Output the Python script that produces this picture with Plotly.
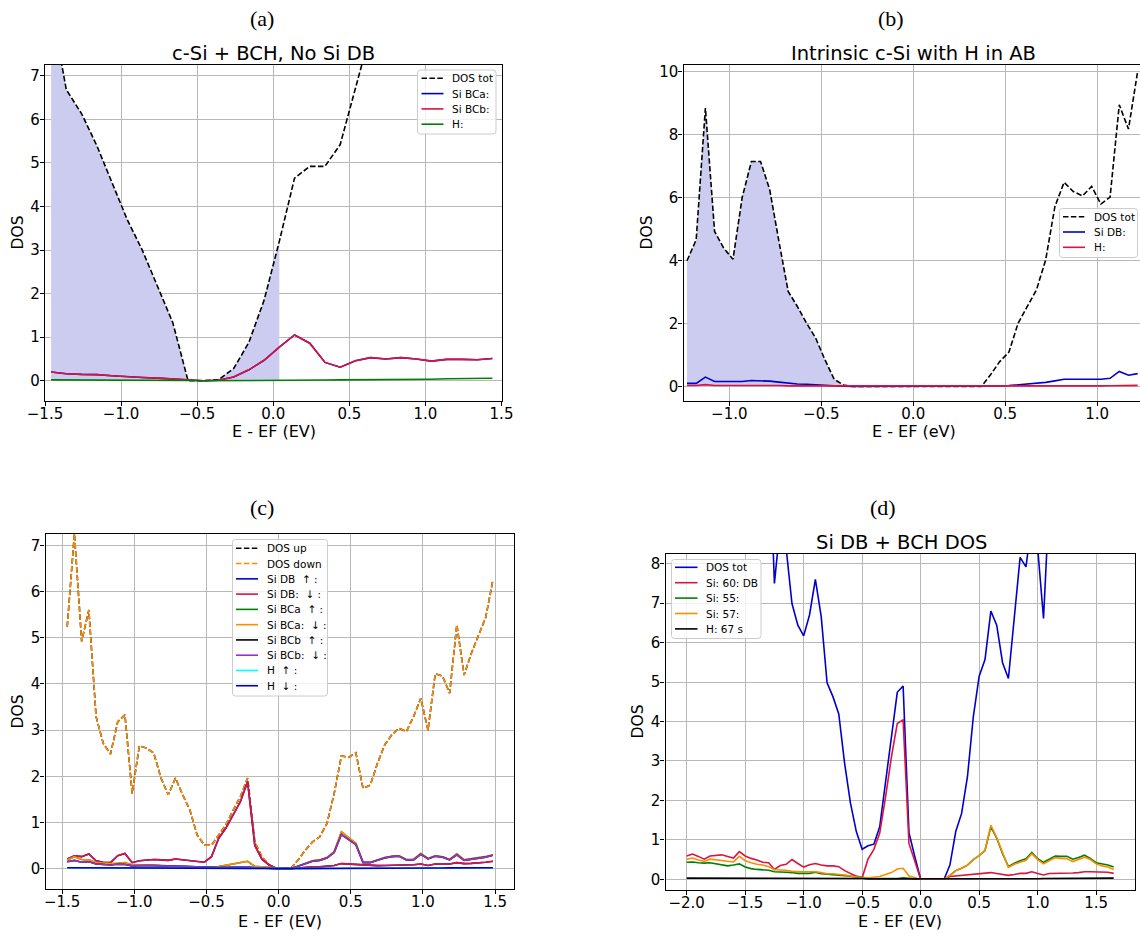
import plotly.graph_objects as go

# ---------------- data ----------------
# (a) c-Si + BCH, No Si DB
E_a = [-1.46, -1.36, -1.26, -1.16, -1.06, -0.96, -0.86, -0.76, -0.66, -0.56,
       -0.46, -0.36, -0.26, -0.16, -0.06, 0.04, 0.14, 0.24, 0.34, 0.44,
       0.54, 0.64, 0.74, 0.84, 0.94, 1.04, 1.14, 1.24, 1.34, 1.44]
dos_tot_a = [8.6, 6.68, 6.13, 5.4, 4.55, 3.7, 2.99, 2.16, 1.33, 0.0,
             0.0, 0.02, 0.28, 0.88, 1.85, 3.2, 4.65, 4.92, 4.92, 5.42,
             6.75, 8.0]
si_bcb_a = [0.2, 0.16, 0.145, 0.14, 0.115, 0.09, 0.075, 0.06, 0.045, 0.015,
            0.0, 0.01, 0.085, 0.25, 0.47, 0.77, 1.05, 0.86, 0.42, 0.31,
            0.46, 0.53, 0.5, 0.53, 0.5, 0.45, 0.49, 0.49, 0.48, 0.51]
si_bca_a = [0.2, 0.16, 0.145, 0.14, 0.115, 0.09, 0.075, 0.06, 0.045, 0.015,
            0.0, 0.01, 0.085, 0.25, 0.47, 0.77, 1.05, 0.86, 0.42, 0.31,
            0.46, 0.53, 0.5, 0.53, 0.5, 0.45, 0.49, 0.49, 0.48, 0.51]
h_a = [0.02, 0.02, 0.02, 0.02, 0.02, 0.02, 0.015, 0.015, 0.01, 0.005,
       0.0, 0.0, 0.002, 0.004, 0.005, 0.006, 0.008, 0.01, 0.015, 0.02,
       0.02, 0.022, 0.025, 0.03, 0.03, 0.035, 0.045, 0.05, 0.055, 0.055]
n_fill_a = 16  # points up to the Fermi level

# (b) Intrinsic c-Si with H in AB
E_b = [-1.23, -1.18, -1.13, -1.08, -1.03, -0.98, -0.93, -0.88, -0.83, -0.78,
       -0.73, -0.68, -0.63, -0.58, -0.53, -0.48, -0.43, -0.38, -0.33, -0.28,
       -0.23, -0.18, -0.13, -0.08, -0.03, 0.02, 0.07, 0.12, 0.17, 0.22,
       0.27, 0.32, 0.37, 0.42, 0.47, 0.52, 0.57, 0.62, 0.67, 0.72,
       0.77, 0.82, 0.87, 0.92, 0.97, 1.02, 1.07, 1.12, 1.17, 1.22]
dos_tot_b = [3.99, 4.66, 8.84, 4.92, 4.39, 4.04, 6.0, 7.14, 7.14, 6.24,
             4.6, 3.02, 2.54, 2.01, 1.53, 0.85, 0.23, 0.05, 0.0, 0.0,
             0.0, 0.0, 0.0, 0.0, 0.0, 0.0, 0.0, 0.0, 0.0, 0.0,
             0.0, 0.0, 0.0, 0.37, 0.79, 1.09, 2.01, 2.54, 3.07, 4.02,
             5.71, 6.48, 6.19, 6.05, 6.35, 5.79, 6.01, 8.94, 8.17, 10.0]
si_db_b = [0.1, 0.1, 0.3, 0.16, 0.16, 0.15, 0.16, 0.19, 0.19, 0.17,
           0.14, 0.1, 0.08, 0.07, 0.05, 0.03, 0.02, 0.01, 0.0, 0.0,
           0.0, 0.0, 0.0, 0.0, 0.0, 0.0, 0.0, 0.0, 0.0, 0.0,
           0.0, 0.0, 0.0, 0.01, 0.02, 0.03, 0.05, 0.07, 0.09, 0.13,
           0.18, 0.23, 0.23, 0.23, 0.23, 0.23, 0.26, 0.48, 0.36, 0.41]
h_b = [0.03, 0.03, 0.06, 0.03, 0.03, 0.03, 0.03, 0.05, 0.05, 0.04,
       0.03, 0.02, 0.02, 0.02, 0.015, 0.01, 0.005, 0.0, 0.0, 0.0,
       0.0, 0.0, 0.0, 0.0, 0.0, 0.0, 0.0, 0.0, 0.0, 0.0,
       0.0, 0.0, 0.0, 0.002, 0.004, 0.005, 0.006, 0.008, 0.01, 0.012,
       0.015, 0.018, 0.02, 0.02, 0.02, 0.02, 0.025, 0.035, 0.03, 0.035]
n_fill_b = 25

# (c) spin-resolved
E_c = [-1.465, -1.415, -1.365, -1.315, -1.265, -1.215, -1.165, -1.115, -1.065, -1.015,
       -0.965, -0.915, -0.865, -0.815, -0.765, -0.715, -0.665, -0.615, -0.565, -0.515,
       -0.465, -0.415, -0.365, -0.315, -0.265, -0.215, -0.165, -0.115, -0.065, -0.015,
       0.035, 0.085, 0.135, 0.185, 0.235, 0.285, 0.335, 0.385, 0.435, 0.485,
       0.535, 0.585, 0.635, 0.685, 0.735, 0.785, 0.835, 0.885, 0.935, 0.985,
       1.035, 1.085, 1.135, 1.185, 1.235, 1.285, 1.335, 1.385, 1.435, 1.485]
dos_down_c = [5.24, 7.25, 4.92, 5.6, 3.29, 2.71, 2.48, 3.18, 3.33, 1.63,
              2.66, 2.61, 2.5, 1.96, 1.6, 1.96, 1.6, 1.27, 0.73, 0.51,
              0.51, 0.73, 0.95, 1.27, 1.56, 1.96, 0.58, 0.25, 0.08, 0.0,
              0.0, 0.01, 0.19, 0.4, 0.58, 0.69, 0.98, 1.63, 2.44, 2.41,
              2.51, 1.74, 1.81, 2.28, 2.68, 2.9, 3.04, 2.97, 3.29, 3.69,
              3.0, 4.22, 4.17, 3.8, 5.28, 4.19, 4.66, 5.06, 5.44, 6.25]
dos_up_c = [5.24, 7.25, 4.92, 5.6, 3.29, 2.71, 2.48, 3.18, 3.33, 1.63,
            2.66, 2.61, 2.5, 1.96, 1.6, 1.96, 1.6, 1.27, 0.73, 0.51,
            0.51, 0.73, 0.95, 1.27, 1.56, 1.96, 0.58, 0.25, 0.08, 0.0,
            0.0, 0.01, 0.19, 0.4, 0.58, 0.69, 0.98, 1.63, 2.44, 2.41,
            2.51, 1.74, 1.81, 2.28, 2.68, 2.9, 3.04, 2.97, 3.29, 3.69,
            3.0, 4.22, 4.17, 3.8, 5.28, 4.19, 4.66, 5.06, 5.44, 6.25]
si_db_c = [0.21, 0.28, 0.26, 0.32, 0.17, 0.14, 0.13, 0.28, 0.33, 0.13,
           0.17, 0.18, 0.2, 0.19, 0.18, 0.21, 0.19, 0.17, 0.16, 0.14,
           0.26, 0.66, 0.88, 1.15, 1.45, 1.88, 0.5, 0.2, 0.08, 0.01,
           0.0, 0.0, 0.015, 0.03, 0.04, 0.04, 0.06, 0.07, 0.11, 0.1,
           0.09, 0.07, 0.065, 0.065, 0.07, 0.07, 0.08, 0.08, 0.085, 0.1,
           0.07, 0.1, 0.1, 0.1, 0.13, 0.11, 0.115, 0.12, 0.14, 0.16]
si_bca_c = [0.19, 0.26, 0.2, 0.19, 0.13, 0.115, 0.11, 0.115, 0.13, 0.08,
            0.085, 0.08, 0.075, 0.065, 0.06, 0.06, 0.05, 0.045, 0.035, 0.03,
            0.03, 0.045, 0.07, 0.095, 0.12, 0.16, 0.05, 0.035, 0.03, 0.0,
            0.0, 0.0, 0.06, 0.12, 0.17, 0.19, 0.24, 0.37, 0.8, 0.67,
            0.55, 0.14, 0.14, 0.19, 0.24, 0.27, 0.28, 0.2, 0.2, 0.33,
            0.22, 0.28, 0.26, 0.2, 0.32, 0.19, 0.21, 0.24, 0.26, 0.3]
si_bcb_c = [0.15, 0.18, 0.14, 0.15, 0.1, 0.09, 0.08, 0.095, 0.09, 0.06,
            0.07, 0.07, 0.065, 0.06, 0.06, 0.05, 0.045, 0.035, 0.03, 0.02,
            0.02, 0.025, 0.03, 0.03, 0.035, 0.04, 0.02, 0.01, 0.005, 0.0,
            0.0, 0.0, 0.05, 0.11, 0.16, 0.18, 0.23, 0.35, 0.74, 0.63,
            0.52, 0.13, 0.13, 0.18, 0.23, 0.26, 0.27, 0.19, 0.19, 0.31,
            0.21, 0.27, 0.25, 0.19, 0.3, 0.18, 0.2, 0.23, 0.25, 0.29]
h_c = [0.02, 0.02, 0.02, 0.02, 0.02, 0.02, 0.02, 0.02, 0.02, 0.02,
       0.02, 0.02, 0.02, 0.02, 0.02, 0.02, 0.02, 0.02, 0.02, 0.02,
       0.015, 0.015, 0.015, 0.012, 0.012, 0.012, 0.01, 0.008, 0.005, 0.0,
       0.0, 0.0, 0.005, 0.008, 0.01, 0.01, 0.012, 0.012, 0.015, 0.015,
       0.015, 0.015, 0.015, 0.015, 0.015, 0.015, 0.015, 0.015, 0.015, 0.015,
       0.015, 0.015, 0.015, 0.018, 0.018, 0.018, 0.02, 0.02, 0.02, 0.02]

# (d) Si DB + BCH DOS
E_d = [-2.0, -1.95, -1.9, -1.85, -1.8, -1.75, -1.7, -1.65, -1.6, -1.55,
       -1.5, -1.45, -1.4, -1.35, -1.3, -1.25, -1.2, -1.15, -1.1, -1.05,
       -1.0, -0.95, -0.9, -0.85, -0.8, -0.75, -0.7, -0.65, -0.6, -0.55,
       -0.5, -0.45, -0.4, -0.35, -0.3, -0.25, -0.2, -0.15, -0.1, -0.05,
       0.0, 0.05, 0.1, 0.15, 0.2, 0.25, 0.3, 0.35, 0.4, 0.45,
       0.5, 0.55, 0.6, 0.65, 0.7, 0.75, 0.8, 0.85, 0.9, 0.95,
       1.0, 1.05, 1.1, 1.15, 1.2, 1.25, 1.3, 1.35, 1.4, 1.45,
       1.5, 1.55, 1.6, 1.65]
# total DOS: visible stretch (from -1.35 to 1.15)
E_tot_d = [-1.35, -1.3, -1.25, -1.2, -1.15, -1.1, -1.05, -1.0, -0.95, -0.9,
           -0.85, -0.8, -0.75, -0.7, -0.65, -0.6, -0.55, -0.5, -0.45, -0.4,
           -0.35, -0.3, -0.25, -0.2, -0.15, -0.1, -0.05, 0.0, 0.05, 0.1,
           0.15, 0.2, 0.25, 0.3, 0.35, 0.4, 0.45, 0.5, 0.55, 0.6,
           0.65, 0.7, 0.75, 0.8, 0.85, 0.9, 0.95, 1.0, 1.05, 1.1, 1.15]
dos_tot_d = [11.0, 11.5, 7.5, 9.0, 8.4, 6.99, 6.44, 6.17, 6.7, 7.6,
             6.66, 4.98, 4.63, 4.19, 2.94, 1.93, 1.21, 0.76, 0.85, 0.89,
             1.33, 2.43, 3.53, 4.74, 4.9, 1.18, 0.57, 0.0, 0.0, 0.0,
             0.0, 0.0, 0.36, 1.21, 1.67, 2.6, 4.12, 5.15, 5.57, 6.8,
             6.44, 5.49, 5.09, 6.66, 8.16, 7.92, 9.05, 8.4, 6.61, 9.66, 11.0]
si60_d = [0.59, 0.64, 0.58, 0.51, 0.59, 0.6, 0.62, 0.58, 0.54, 0.7,
          0.59, 0.53, 0.49, 0.43, 0.42, 0.25, 0.35, 0.38, 0.5, 0.4,
          0.31, 0.37, 0.4, 0.36, 0.34, 0.34, 0.32, 0.22, 0.14, 0.08,
          0.04, 0.51, 0.76, 1.17, 2.09, 3.1, 3.95, 4.04, 0.91, 0.45,
          0.0, 0.0, 0.0, 0.0, 0.0, 0.07, 0.085, 0.09, 0.12, 0.135,
          0.135, 0.15, 0.17, 0.145, 0.12, 0.1, 0.12, 0.15, 0.15, 0.19,
          0.145, 0.11, 0.145, 0.145, 0.16, 0.145, 0.16, 0.17, 0.19, 0.19,
          0.19, 0.19, 0.18, 0.15]
si55_d = [0.43, 0.44, 0.42, 0.41, 0.42, 0.39, 0.36, 0.34, 0.36, 0.39,
          0.31, 0.27, 0.25, 0.24, 0.23, 0.19, 0.19, 0.18, 0.17, 0.15,
          0.15, 0.15, 0.18, 0.14, 0.13, 0.12, 0.11, 0.09, 0.08, 0.06,
          0.04, 0.03, 0.025, 0.025, 0.025, 0.02, 0.02, 0.04, 0.02, 0.01,
          0.0, 0.0, 0.0, 0.0, 0.0, 0.1, 0.22, 0.28, 0.36, 0.5,
          0.6, 0.73, 1.33, 1.04, 0.65, 0.32, 0.41, 0.47, 0.52, 0.68,
          0.52, 0.43, 0.5, 0.59, 0.58, 0.58, 0.51, 0.55, 0.61, 0.53,
          0.42, 0.39, 0.36, 0.31]
si57_d = [0.51, 0.54, 0.49, 0.45, 0.51, 0.49, 0.47, 0.45, 0.44, 0.58,
          0.47, 0.42, 0.38, 0.36, 0.32, 0.24, 0.24, 0.23, 0.2, 0.19,
          0.19, 0.19, 0.19, 0.17, 0.14, 0.14, 0.13, 0.11, 0.085, 0.06,
          0.04, 0.04, 0.05, 0.07, 0.12, 0.17, 0.26, 0.28, 0.085, 0.05,
          0.0, 0.0, 0.0, 0.0, 0.0, 0.1, 0.22, 0.28, 0.36, 0.5,
          0.6, 0.74, 1.37, 1.06, 0.66, 0.3, 0.38, 0.44, 0.48, 0.65,
          0.5, 0.39, 0.46, 0.55, 0.53, 0.52, 0.45, 0.5, 0.56, 0.5,
          0.39, 0.34, 0.31, 0.25]
h67_d = [0.03, 0.03, 0.03, 0.03, 0.03, 0.03, 0.03, 0.03, 0.03, 0.03,
         0.03, 0.03, 0.03, 0.025, 0.025, 0.025, 0.025, 0.025, 0.025, 0.025,
         0.025, 0.025, 0.025, 0.025, 0.025, 0.025, 0.02, 0.02, 0.02, 0.02,
         0.02, 0.01, 0.01, 0.01, 0.01, 0.01, 0.01, 0.01, 0.01, 0.01,
         0.0, 0.0, 0.0, 0.0, 0.0, 0.01, 0.01, 0.01, 0.01, 0.01,
         0.01, 0.015, 0.015, 0.015, 0.015, 0.015, 0.015, 0.015, 0.015, 0.015,
         0.015, 0.02, 0.02, 0.02, 0.02, 0.02, 0.02, 0.03, 0.03, 0.03,
         0.03, 0.03, 0.035, 0.03]

# tick labels
xt_a = [-1.5, -1.0, -0.5, 0.0, 0.5, 1.0, 1.5]
xt_b = [-1.0, -0.5, 0.0, 0.5, 1.0]
xt_d = [-2.0, -1.5, -1.0, -0.5, 0.0, 0.5, 1.0, 1.5]
yt_a = [0, 1, 2, 3, 4, 5, 6, 7]
yt_b = [0, 2, 4, 6, 8, 10]
yt_d = [0, 1, 2, 3, 4, 5, 6, 7, 8]

for a, b in [(E_a, si_bcb_a), (E_a, h_a), (E_b, dos_tot_b), (E_b, si_db_b), (E_b, h_b),
             (E_c, dos_down_c), (E_c, si_db_c), (E_c, si_bca_c), (E_c, si_bcb_c), (E_c, h_c),
             (E_d, si60_d), (E_d, si55_d), (E_d, si57_d), (E_d, h67_d), (E_tot_d, dos_tot_d)]:
    assert len(a) == len(b), (len(a), len(b))

# ---------------- styling helpers ----------------
W, H = 1140, 934
FONT = "DejaVu Sans"
BLUE = "#0000CD"
CRIMSON = "#DC143C"
GREEN = "#008000"
ORANGE = "#FF8C00"
ORCHID = "#9932CC"
DASH = "5.5px,2.4px"
LW = 1.6


def px(x):
    return x / W


def py(y):
    return 1 - y / H


def fmt(v):
    s = f"{v:.1f}"
    return s.replace("-", "\u2212")


fig = go.Figure()


def line(x, y, color, ax, dash=None, width=LW):
    fig.add_trace(go.Scatter(x=x, y=y, mode="lines", xaxis="x" + ax, yaxis="y" + ax,
                             line=dict(color=color, width=width, dash=dash),
                             showlegend=False, hoverinfo="skip"))


# (a)
fig.add_trace(go.Scatter(x=E_a[:n_fill_a], y=dos_tot_a[:n_fill_a], mode="lines", fill="tozeroy",
                         fillcolor="rgb(204,204,240)", line=dict(width=0), xaxis="x", yaxis="y",
                         showlegend=False, hoverinfo="skip"))
line(E_a[:len(dos_tot_a)], dos_tot_a, "black", "", DASH)
line(E_a, si_bca_a, BLUE, "")
line(E_a, si_bcb_a, CRIMSON, "")
line(E_a, h_a, GREEN, "")

# (b)
fig.add_trace(go.Scatter(x=E_b[:n_fill_b], y=dos_tot_b[:n_fill_b], mode="lines", fill="tozeroy",
                         fillcolor="rgb(204,204,240)", line=dict(width=0), xaxis="x2", yaxis="y2",
                         showlegend=False, hoverinfo="skip"))
line(E_b, dos_tot_b, "black", "2", DASH)
line(E_b, si_db_b, BLUE, "2")
line(E_b, h_b, CRIMSON, "2")

# (c)  spin up identical to spin down -> hidden beneath
line(E_c, dos_up_c, "black", "3", DASH)
line(E_c, dos_down_c, ORANGE, "3", DASH)
line(E_c, si_db_c, BLUE, "3")
line(E_c, si_db_c, CRIMSON, "3")
line(E_c, si_bca_c, GREEN, "3")
line(E_c, si_bca_c, ORANGE, "3")
line(E_c, si_bcb_c, "black", "3")
line(E_c, si_bcb_c, ORCHID, "3")
line(E_c, h_c, "cyan", "3")
line(E_c, h_c, BLUE, "3")

# (d)
line(E_tot_d, dos_tot_d, BLUE, "4")
line(E_d, si60_d, CRIMSON, "4")
line(E_d, si55_d, GREEN, "4")
line(E_d, si57_d, ORANGE, "4")
line(E_d, h67_d, "black", "4")

# ---------------- axes ----------------
def axis_common():
    return dict(showgrid=True, gridcolor="#b8b8b8", gridwidth=1, showline=True, linecolor="black",
                linewidth=1.2, ticks="outside", ticklen=4, tickwidth=1, tickcolor="black",
                zeroline=False, tickfont=dict(family=FONT, size=15, color="black"),
                tickmode="array")


panels = {
    "": dict(x=(45, 501.5), y=(64.5, 400.5), xr=[-1.5, 1.5], yr=[-0.454, 7.257], xt=xt_a, yt=yt_a),
    "2": dict(x=(683.5, 1140), y=(64.5, 400.5), xr=[-1.249, 1.2327], yr=[-0.444, 10.22], xt=xt_b, yt=yt_b),
    "3": dict(x=(45.5, 514), y=(534, 889), xr=[-1.6155, 1.631], yr=[-0.44, 7.245], xt=xt_a, yt=yt_a),
    "4": dict(x=(665.5, 1135), y=(553.5, 889.5), xr=[-2.181, 1.832], yr=[-0.259, 8.259], xt=xt_d, yt=yt_d),
}
layout_axes = {}
for k, p in panels.items():
    xa = axis_common()
    xa.update(domain=[px(p["x"][0]), px(p["x"][1])], range=p["xr"], anchor="y" + k,
              tickvals=p["xt"], ticktext=[fmt(v) for v in p["xt"]], mirror=True,
              ticklabelstandoff=-5, automargin=False)
    ya = axis_common()
    ya.update(domain=[py(p["y"][1]), py(p["y"][0])], range=p["yr"], anchor="x" + k,
              tickvals=p["yt"], ticktext=[str(v) for v in p["yt"]], mirror=(k != "2"),
              ticklabelstandoff=-3, automargin=False)
    layout_axes["xaxis" + k] = xa
    layout_axes["yaxis" + k] = ya

# ---------------- texts ----------------
ann = []


def text(s, x, y, size, family=FONT, angle=0, xanchor="center"):
    ann.append(dict(text=s, x=px(x), y=py(y), xref="paper", yref="paper", showarrow=False,
                    xanchor=xanchor, yanchor="middle", textangle=angle,
                    font=dict(family=family, size=size, color="black")))


SERIF = "Liberation Serif"
text("(a)", 262, 18, 22, SERIF)
text("(b)", 891, 18, 22, SERIF)
text("(c)", 262, 507, 22, SERIF)
text("(d)", 883, 507, 22, SERIF)
text("c-Si + BCH, No Si DB", 273, 53.5, 19.5)
text("Intrinsic c-Si with H in AB", 913.6, 53.5, 19.5)
text("Si DB + BCH DOS", 901, 542.5, 19.5)
text("E - EF (EV)", 273.5, 432, 16)
text("E - EF (eV)", 913.6, 432, 16)
text("E - EF (EV)", 280, 921, 16)
text("E - EF (EV)", 900, 921, 16)
text("DOS", 17.5, 233, 15.5, angle=-90)
text("DOS", 646.5, 233, 15.5, angle=-90)
text("DOS", 17.5, 712, 15.5, angle=-90)
text("DOS", 637.5, 722, 15.5, angle=-90)

# ---------------- legends ----------------
shapes = []


def rounded_box(l, t, r, b, rad=3):
    X = lambda v: f"{px(v):.6f}"
    Y = lambda v: f"{py(v):.6f}"
    return (f"M {X(l + rad)},{Y(t)} L {X(r - rad)},{Y(t)} Q {X(r)},{Y(t)} {X(r)},{Y(t + rad)} "
            f"L {X(r)},{Y(b - rad)} Q {X(r)},{Y(b)} {X(r - rad)},{Y(b)} "
            f"L {X(l + rad)},{Y(b)} Q {X(l)},{Y(b)} {X(l)},{Y(b - rad)} "
            f"L {X(l)},{Y(t + rad)} Q {X(l)},{Y(t)} {X(l + rad)},{Y(t)} Z")


def legend(box, hx, tx, y0, step, entries):
    l, t, r, b = box
    shapes.append(dict(type="path", xref="paper", yref="paper", path=rounded_box(l, t, r, b),
                       fillcolor="rgba(255,255,255,0.8)",
                       line=dict(color="#cccccc", width=1), layer="above"))
    for i, (label, color, dash) in enumerate(entries):
        y = y0 + i * step
        shapes.append(dict(type="line", xref="paper", yref="paper", x0=px(hx[0]), x1=px(hx[1]),
                           y0=py(y), y1=py(y), line=dict(color=color, width=LW, dash=dash),
                           layer="above"))
        text(label, tx, y, 10.5, xanchor="left")


legend((417.5, 70, 496, 134), (421.5, 443.5), 450, 78.3, 15.3,
       [("DOS tot", "black", DASH), ("Si BCa:", BLUE, None), ("Si BCb:", CRIMSON, None),
        ("H:", GREEN, None)])
legend((1059.5, 208.5, 1137.5, 257.5), (1063, 1085), 1091.5, 216.7, 15.3,
       [("DOS tot", "black", DASH), ("Si DB:", BLUE, None), ("H:", CRIMSON, None)])
legend((232.5, 539.5, 327.5, 696), (236, 258), 264.5, 548.3, 15.27,
       [("DOS up", "black", DASH), ("DOS down", ORANGE, DASH),
        ("Si DB  \u2191 :", BLUE, None), ("Si DB:  \u2193 :", CRIMSON, None),
        ("Si BCa  \u2191 :", GREEN, None), ("Si BCa:  \u2193 :", ORANGE, None),
        ("Si BCb  \u2191 :", "black", None), ("Si BCb:  \u2193 :", ORCHID, None),
        ("H  \u2191 :", "cyan", None), ("H  \u2193 :", BLUE, None)])
legend((671.5, 559.5, 761, 638.5), (675, 697.5), 704, 567.3, 15.4,
       [("DOS tot", BLUE, None), ("Si: 60: DB", CRIMSON, None), ("Si: 55:", GREEN, None),
        ("Si: 57:", ORANGE, None), ("H: 67 s", "black", None)])

fig.update_layout(width=W, height=H, margin=dict(l=0, r=0, t=0, b=0, pad=0, autoexpand=False),
                  paper_bgcolor="white", plot_bgcolor="white", showlegend=False,
                  font=dict(family=FONT, color="black"), annotations=ann, shapes=shapes,
                  hovermode=False, **layout_axes)
fig.write_html("out.html")
